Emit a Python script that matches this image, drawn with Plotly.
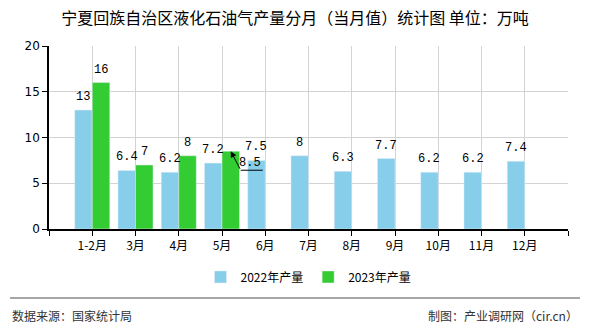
import plotly.graph_objects as go

categories = ["1-2月", "3月", "4月", "5月", "6月", "7月", "8月", "9月", "10月", "11月", "12月"]
values_2022 = [13, 6.4, 6.2, 7.2, 7.5, 8, 6.3, 7.7, 6.2, 6.2, 7.4]
values_2023 = [16, 7, 8, 8.5]
labels_2022 = ["13", "6.4", "6.2", "7.2", "7.5", "8", "6.3", "7.7", "6.2", "6.2", "7.4"]
labels_2023 = ["16", "7", "8", "8.5"]
callout_index = 3   # 5月 2023 label drawn as a callout

BLUE = "#87CEEB"
GREEN = "#33CC33"
BARGAP = 0.19
CJK = "Noto Sans CJK SC"
MONO = "Liberation Mono"
LABEL_FONT = dict(family=MONO, size=12, color="#000")

x_idx = list(range(len(categories)))
x_2023 = x_idx[:len(values_2023)]
bar_w = (1 - BARGAP) / 2

fig = go.Figure()
fig.add_trace(go.Bar(x=x_idx, y=values_2022, name="2022年产量", marker_color=BLUE))
fig.add_trace(go.Bar(x=x_2023, y=values_2023, name="2023年产量", marker_color=GREEN))

# value labels
for xi, v, t in zip(x_idx, values_2022, labels_2022):
    fig.add_annotation(x=xi - bar_w / 2, y=v, xref="x", yref="y", text=t, showarrow=False,
                       yanchor="bottom", yshift=4, font=LABEL_FONT)
for i, (xi, v, t) in enumerate(zip(x_2023, values_2023, labels_2023)):
    cx = xi + bar_w / 2
    if i == callout_index:
        fig.add_annotation(x=cx, y=v, xref="x", yref="y", text="", showarrow=True,
                           arrowhead=2, arrowsize=1.2, arrowwidth=1, arrowcolor="#000",
                           ax=10, ay=19, axref="pixel", ayref="pixel")
        fig.add_annotation(x=cx, y=v, xref="x", yref="y", text=t, showarrow=False,
                           xshift=19, yshift=-12, font=LABEL_FONT)
        fig.add_shape(type="line", xref="x", yref="y", xsizemode="pixel", ysizemode="pixel",
                      xanchor=cx, yanchor=v, x0=10, x1=32, y0=-19, y1=-19,
                      line=dict(color="#000", width=1))
    else:
        fig.add_annotation(x=cx, y=v, xref="x", yref="y", text=t, showarrow=False,
                           yanchor="bottom", yshift=4, font=LABEL_FONT)

tickvals = list(range(-1, len(categories) + 1))
ticktext = [""] + categories + [""]

fig.update_layout(
    width=590, height=330,
    margin=dict(l=49, r=22, t=46, b=101),
    paper_bgcolor="white", plot_bgcolor="white",
    barmode="group", bargap=BARGAP, bargroupgap=0,
    font=dict(family=CJK, size=12, color="#000"),
    title=dict(text="宁夏回族自治区液化石油气产量分月（当月值）统计图 单位：万吨",
               x=0.5, xanchor="center", y=1 - 18 / 330, yanchor="middle",
               font=dict(family=CJK, size=16, color="#000")),
    showlegend=True,
    legend=dict(orientation="h", x=0.5, xanchor="center", y=-0.262, yanchor="middle",
                font=dict(family=CJK, size=12, color="#000"), itemwidth=30,
                traceorder="normal"),
    xaxis=dict(range=[-1, len(categories)], tickmode="array", tickvals=tickvals,
               ticktext=ticktext, showgrid=True, gridcolor="#D3D3D3", gridwidth=1,
               showline=True, linecolor="#000", linewidth=1.5,
               ticks="outside", ticklen=5, tickcolor="#000",
               tickfont=dict(family=CJK, size=12, color="#000"), zeroline=False),
    yaxis=dict(range=[0, 20], tickvals=[0, 5, 10, 15, 20], showgrid=True,
               gridcolor="#D3D3D3", gridwidth=1, showline=True, linecolor="#000",
               linewidth=1.5, ticks="outside", ticklen=5, tickcolor="#000",
               tickfont=dict(family="DejaVu Sans", size=12, color="#000"), zeroline=False),
)

# footer separator and texts
fig.add_shape(type="line", xref="paper", yref="paper", x0=-0.075, x1=1.023,
              y0=-0.377, y1=-0.377, line=dict(color="#888", width=1.5))
fig.add_annotation(xref="paper", yref="paper", x=-0.075, y=-0.475, xanchor="left",
                   yanchor="middle", showarrow=False, text="数据来源：国家统计局",
                   font=dict(family=CJK, size=12, color="#333"))
fig.add_annotation(xref="paper", yref="paper", x=1.023, y=-0.475, xanchor="right",
                   yanchor="middle", showarrow=False, text="制图：产业调研网（cir.cn）",
                   font=dict(family=CJK, size=12, color="#333"))

fig.write_html("out.html")
